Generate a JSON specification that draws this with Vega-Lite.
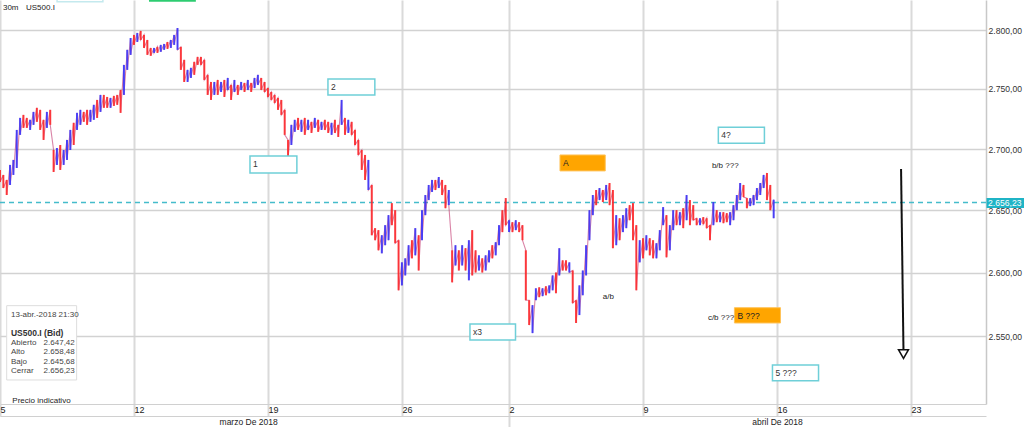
{
  "$schema": "https://vega.github.io/schema/vega-lite/v6.json",
  "width": 986,
  "height": 404,
  "autosize": {"type": "none"},
  "padding": {"left": 0, "top": 0, "right": 38, "bottom": 23},
  "background": "white",
  "config": {
    "locale": {"number": {"decimal": ",", "thousands": ".", "grouping": [3], "currency": ["", ""]}},
    "view": {"stroke": null},
    "font": "Liberation Sans",
    "text": {"font": "Liberation Sans"}
  },
  "datasets": {
    "bars": [
{"t":0,"h":2682.8,"l":2672.9,"d":"d"},
{"t":0.125,"h":2678.7,"l":2668,"d":"d"},
{"t":0.25,"h":2674.6,"l":2662.3,"d":"d"},
{"t":0.375,"h":2686.9,"l":2670.5,"d":"u"},
{"t":0.5,"h":2691,"l":2678.7,"d":"u"},
{"t":0.625,"h":2715.8,"l":2684.4,"d":"u"},
{"t":0.75,"h":2725.8,"l":2711.7,"d":"u"},
{"t":0.875,"h":2728.3,"l":2717.5,"d":"d"},
{"t":1,"h":2725.8,"l":2717.5,"d":"d"},
{"t":1.125,"h":2724.2,"l":2715.8,"d":"u"},
{"t":1.25,"h":2730.8,"l":2720,"d":"u"},
{"t":1.375,"h":2734.2,"l":2722.5,"d":"d"},
{"t":1.5,"h":2732.5,"l":2715.8,"d":"d"},
{"t":1.625,"h":2724.2,"l":2707.5,"d":"d"},
{"t":1.75,"h":2730.8,"l":2717.5,"d":"u"},
{"t":1.875,"h":2732.5,"l":2720,"d":"d"},
{"t":2,"h":2699.2,"l":2681.1,"d":"d"},
{"t":2.125,"h":2700.8,"l":2686.9,"d":"u"},
{"t":2.25,"h":2703.3,"l":2682.8,"d":"d"},
{"t":2.375,"h":2699.2,"l":2686.9,"d":"u"},
{"t":2.5,"h":2707.5,"l":2691,"d":"u"},
{"t":2.625,"h":2715.8,"l":2699.2,"d":"u"},
{"t":2.75,"h":2721.7,"l":2703.3,"d":"d"},
{"t":2.875,"h":2730,"l":2715.8,"d":"u"},
{"t":3,"h":2732.5,"l":2720,"d":"u"},
{"t":3.125,"h":2730.8,"l":2722.5,"d":"d"},
{"t":3.25,"h":2732.5,"l":2720,"d":"d"},
{"t":3.375,"h":2732.5,"l":2722.5,"d":"u"},
{"t":3.5,"h":2736.7,"l":2724.2,"d":"u"},
{"t":3.625,"h":2740.8,"l":2725.8,"d":"d"},
{"t":3.75,"h":2745,"l":2730.8,"d":"u"},
{"t":3.875,"h":2745,"l":2734.2,"d":"d"},
{"t":4,"h":2743.3,"l":2734.2,"d":"d"},
{"t":4.125,"h":2742.5,"l":2734.2,"d":"u"},
{"t":4.25,"h":2744.2,"l":2735.8,"d":"d"},
{"t":4.375,"h":2745,"l":2736.7,"d":"d"},
{"t":4.5,"h":2749.2,"l":2730,"d":"d"},
{"t":4.625,"h":2770.3,"l":2745,"d":"u"},
{"t":4.75,"h":2783.1,"l":2766.1,"d":"u"},
{"t":4.875,"h":2793.2,"l":2778.8,"d":"u"},
{"t":5,"h":2795.8,"l":2787.3,"d":"d"},
{"t":5.125,"h":2797.5,"l":2789.8,"d":"u"},
{"t":5.25,"h":2799.2,"l":2791.5,"d":"d"},
{"t":5.375,"h":2795.8,"l":2784.7,"d":"d"},
{"t":5.5,"h":2791.5,"l":2778.8,"d":"d"},
{"t":5.625,"h":2784.7,"l":2778,"d":"d"},
{"t":5.75,"h":2784.7,"l":2780.5,"d":"u"},
{"t":5.875,"h":2785.6,"l":2780.5,"d":"d"},
{"t":6,"h":2787.3,"l":2781.4,"d":"u"},
{"t":6.125,"h":2788.1,"l":2783.1,"d":"u"},
{"t":6.25,"h":2789.8,"l":2783.9,"d":"d"},
{"t":6.375,"h":2791.5,"l":2784.7,"d":"u"},
{"t":6.5,"h":2795.8,"l":2787.3,"d":"u"},
{"t":6.625,"h":2801.7,"l":2783.1,"d":"u"},
{"t":6.75,"h":2785.6,"l":2766.1,"d":"d"},
{"t":6.875,"h":2774.6,"l":2755.9,"d":"d"},
{"t":7,"h":2766.1,"l":2755.9,"d":"u"},
{"t":7.125,"h":2767.8,"l":2759.3,"d":"u"},
{"t":7.25,"h":2772.9,"l":2761.9,"d":"d"},
{"t":7.375,"h":2777.1,"l":2770.3,"d":"d"},
{"t":7.5,"h":2777.1,"l":2770.3,"d":"d"},
{"t":7.625,"h":2774.6,"l":2757.6,"d":"d"},
{"t":7.75,"h":2761.9,"l":2745,"d":"d"},
{"t":7.875,"h":2755.9,"l":2740.8,"d":"d"},
{"t":8,"h":2755.9,"l":2745,"d":"u"},
{"t":8.125,"h":2757.6,"l":2745,"d":"d"},
{"t":8.25,"h":2755.9,"l":2747.5,"d":"u"},
{"t":8.375,"h":2757.6,"l":2743.3,"d":"d"},
{"t":8.5,"h":2759.3,"l":2749.2,"d":"u"},
{"t":8.625,"h":2753.4,"l":2740.8,"d":"d"},
{"t":8.75,"h":2757.6,"l":2747.5,"d":"u"},
{"t":8.875,"h":2753.4,"l":2745,"d":"d"},
{"t":9,"h":2755.9,"l":2749.2,"d":"u"},
{"t":9.125,"h":2755.1,"l":2747.5,"d":"d"},
{"t":9.25,"h":2757.6,"l":2749.2,"d":"u"},
{"t":9.375,"h":2755.1,"l":2747.5,"d":"d"},
{"t":9.5,"h":2759.3,"l":2750.8,"d":"u"},
{"t":9.625,"h":2761.9,"l":2753.4,"d":"u"},
{"t":9.75,"h":2759.3,"l":2749.2,"d":"d"},
{"t":9.875,"h":2755.9,"l":2747.5,"d":"d"},
{"t":10,"h":2750.8,"l":2743.3,"d":"d"},
{"t":10.125,"h":2747.5,"l":2740.8,"d":"d"},
{"t":10.25,"h":2745,"l":2738.3,"d":"d"},
{"t":10.375,"h":2742.5,"l":2732.5,"d":"d"},
{"t":10.5,"h":2740.8,"l":2728.3,"d":"d"},
{"t":10.625,"h":2732.5,"l":2711.7,"d":"d"},
{"t":10.75,"h":2707.5,"l":2692.6,"d":"d"},
{"t":10.875,"h":2720,"l":2703.3,"d":"u"},
{"t":11,"h":2724.2,"l":2714.2,"d":"u"},
{"t":11.125,"h":2725.8,"l":2715.8,"d":"d"},
{"t":11.25,"h":2724.2,"l":2714.2,"d":"u"},
{"t":11.375,"h":2725.8,"l":2711.7,"d":"d"},
{"t":11.5,"h":2724.2,"l":2715.8,"d":"u"},
{"t":11.625,"h":2722.5,"l":2713.3,"d":"d"},
{"t":11.75,"h":2725.8,"l":2717.5,"d":"u"},
{"t":11.875,"h":2724.2,"l":2714.2,"d":"d"},
{"t":12,"h":2722.5,"l":2715.8,"d":"u"},
{"t":12.125,"h":2724.2,"l":2715.8,"d":"d"},
{"t":12.25,"h":2722.5,"l":2713.3,"d":"d"},
{"t":12.375,"h":2721.7,"l":2711.7,"d":"u"},
{"t":12.5,"h":2724.2,"l":2713.3,"d":"d"},
{"t":12.625,"h":2720,"l":2710,"d":"d"},
{"t":12.75,"h":2740.8,"l":2720,"d":"u"},
{"t":12.875,"h":2725.8,"l":2711.7,"d":"d"},
{"t":13,"h":2724.2,"l":2713.3,"d":"u"},
{"t":13.125,"h":2722.5,"l":2711.7,"d":"d"},
{"t":13.25,"h":2715.8,"l":2703.3,"d":"d"},
{"t":13.375,"h":2707.5,"l":2695.1,"d":"d"},
{"t":13.5,"h":2699.2,"l":2682.8,"d":"d"},
{"t":13.625,"h":2695.1,"l":2674.6,"d":"d"},
{"t":13.75,"h":2691,"l":2666.4,"d":"u"},
{"t":13.875,"h":2670.5,"l":2629.8,"d":"d"},
{"t":14,"h":2635.5,"l":2625.8,"d":"d"},
{"t":14.125,"h":2633.9,"l":2617.7,"d":"d"},
{"t":14.25,"h":2629.8,"l":2615.3,"d":"u"},
{"t":14.375,"h":2637.9,"l":2621.8,"d":"u"},
{"t":14.5,"h":2646,"l":2625.8,"d":"u"},
{"t":14.625,"h":2655.7,"l":2637.9,"d":"d"},
{"t":14.75,"h":2650,"l":2623.4,"d":"d"},
{"t":14.875,"h":2625.8,"l":2585.9,"d":"d"},
{"t":15,"h":2608.1,"l":2589.8,"d":"u"},
{"t":15.125,"h":2611.3,"l":2597.7,"d":"u"},
{"t":15.25,"h":2621.8,"l":2605.6,"d":"u"},
{"t":15.375,"h":2625.8,"l":2611.3,"d":"d"},
{"t":15.5,"h":2635.5,"l":2613.7,"d":"u"},
{"t":15.625,"h":2629.8,"l":2601.6,"d":"d"},
{"t":15.75,"h":2650,"l":2625.8,"d":"u"},
{"t":15.875,"h":2662.3,"l":2646,"d":"u"},
{"t":16,"h":2670.5,"l":2658.2,"d":"u"},
{"t":16.125,"h":2674.6,"l":2664.8,"d":"u"},
{"t":16.25,"h":2674.6,"l":2666.4,"d":"d"},
{"t":16.375,"h":2677,"l":2668,"d":"u"},
{"t":16.5,"h":2674.6,"l":2662.3,"d":"d"},
{"t":16.625,"h":2670.5,"l":2651.6,"d":"d"},
{"t":16.75,"h":2666.4,"l":2654.1,"d":"u"},
{"t":16.875,"h":2617.7,"l":2592.2,"d":"d"},
{"t":17,"h":2621.8,"l":2605.6,"d":"u"},
{"t":17.125,"h":2617.7,"l":2601.6,"d":"d"},
{"t":17.25,"h":2621.8,"l":2605.6,"d":"u"},
{"t":17.375,"h":2619.4,"l":2601.6,"d":"d"},
{"t":17.5,"h":2625.8,"l":2593.8,"d":"u"},
{"t":17.625,"h":2633.9,"l":2597.7,"d":"d"},
{"t":17.75,"h":2617.7,"l":2600,"d":"d"},
{"t":17.875,"h":2613.7,"l":2601.6,"d":"u"},
{"t":18,"h":2611.3,"l":2600,"d":"d"},
{"t":18.125,"h":2613.7,"l":2601.6,"d":"u"},
{"t":18.25,"h":2617.7,"l":2608.1,"d":"u"},
{"t":18.375,"h":2621.8,"l":2611.3,"d":"d"},
{"t":18.5,"h":2624.2,"l":2613.7,"d":"u"},
{"t":18.625,"h":2637.9,"l":2621.8,"d":"u"},
{"t":18.75,"h":2650,"l":2632.3,"d":"d"},
{"t":18.875,"h":2659.8,"l":2637.9,"d":"d"},
{"t":19,"h":2641.9,"l":2632.3,"d":"u"},
{"t":19.125,"h":2640.3,"l":2632.3,"d":"d"},
{"t":19.25,"h":2641.9,"l":2633.9,"d":"u"},
{"t":19.375,"h":2640.3,"l":2632.3,"d":"d"},
{"t":19.5,"h":2637.9,"l":2625.8,"d":"d"},
{"t":19.625,"h":2617.7,"l":2578.1,"d":"d"},
{"t":19.75,"h":2578.1,"l":2558.6,"d":"d"},
{"t":19.875,"h":2574.2,"l":2552.3,"d":"u"},
{"t":20,"h":2587.5,"l":2578.1,"d":"u"},
{"t":20.125,"h":2588.3,"l":2580.5,"d":"d"},
{"t":20.25,"h":2587.5,"l":2581.3,"d":"u"},
{"t":20.375,"h":2589.1,"l":2582,"d":"d"},
{"t":20.5,"h":2589.8,"l":2583.6,"d":"u"},
{"t":20.625,"h":2597.7,"l":2585.9,"d":"u"},
{"t":20.75,"h":2600,"l":2583.6,"d":"d"},
{"t":20.875,"h":2619.4,"l":2597.7,"d":"u"},
{"t":21,"h":2609.7,"l":2601.6,"d":"d"},
{"t":21.125,"h":2609.7,"l":2601.6,"d":"d"},
{"t":21.25,"h":2608.1,"l":2600,"d":"u"},
{"t":21.375,"h":2601.6,"l":2575.8,"d":"d"},
{"t":21.5,"h":2578.1,"l":2560.2,"d":"d"},
{"t":21.625,"h":2589.8,"l":2566.4,"d":"u"},
{"t":21.75,"h":2601.6,"l":2582,"d":"u"},
{"t":21.875,"h":2621.8,"l":2597.7,"d":"u"},
{"t":22,"h":2650,"l":2625.8,"d":"u"},
{"t":22.125,"h":2662.3,"l":2646,"d":"u"},
{"t":22.25,"h":2666.4,"l":2654.1,"d":"d"},
{"t":22.375,"h":2668,"l":2658.2,"d":"u"},
{"t":22.5,"h":2666.4,"l":2656.6,"d":"d"},
{"t":22.625,"h":2670.5,"l":2658.2,"d":"u"},
{"t":22.75,"h":2672.1,"l":2654.1,"d":"d"},
{"t":22.875,"h":2666.4,"l":2619.4,"d":"d"},
{"t":23,"h":2646,"l":2621.8,"d":"u"},
{"t":23.125,"h":2643.5,"l":2625.8,"d":"d"},
{"t":23.25,"h":2646,"l":2632.3,"d":"u"},
{"t":23.375,"h":2651.6,"l":2635.5,"d":"u"},
{"t":23.5,"h":2654.1,"l":2641.9,"d":"d"},
{"t":23.625,"h":2655.7,"l":2625.8,"d":"d"},
{"t":23.75,"h":2637.9,"l":2585.9,"d":"d"},
{"t":23.875,"h":2625.8,"l":2608.1,"d":"u"},
{"t":24,"h":2627.4,"l":2611.3,"d":"d"},
{"t":24.125,"h":2629.8,"l":2617.7,"d":"u"},
{"t":24.25,"h":2627.4,"l":2613.7,"d":"d"},
{"t":24.375,"h":2625.8,"l":2611.3,"d":"d"},
{"t":24.5,"h":2623.4,"l":2611.3,"d":"u"},
{"t":24.625,"h":2633.9,"l":2617.7,"d":"u"},
{"t":24.75,"h":2652.5,"l":2637.9,"d":"u"},
{"t":24.875,"h":2646,"l":2612.1,"d":"d"},
{"t":25,"h":2637.9,"l":2617.7,"d":"u"},
{"t":25.125,"h":2650,"l":2633.9,"d":"u"},
{"t":25.25,"h":2650,"l":2637.9,"d":"d"},
{"t":25.375,"h":2648.4,"l":2637.9,"d":"u"},
{"t":25.5,"h":2651.6,"l":2635.5,"d":"d"},
{"t":25.625,"h":2662.3,"l":2641.9,"d":"u"},
{"t":25.75,"h":2658.2,"l":2637.9,"d":"d"},
{"t":25.875,"h":2654.1,"l":2641.9,"d":"d"},
{"t":26,"h":2643.5,"l":2637.9,"d":"d"},
{"t":26.125,"h":2643.5,"l":2637.9,"d":"u"},
{"t":26.25,"h":2644.4,"l":2638.7,"d":"d"},
{"t":26.375,"h":2643.5,"l":2635.5,"d":"d"},
{"t":26.5,"h":2637.9,"l":2625.8,"d":"d"},
{"t":26.625,"h":2656.6,"l":2637.9,"d":"u"},
{"t":26.75,"h":2650,"l":2640.3,"d":"d"},
{"t":26.875,"h":2648.4,"l":2640.3,"d":"u"},
{"t":27,"h":2648.4,"l":2639.5,"d":"d"},
{"t":27.125,"h":2647.6,"l":2640.3,"d":"d"},
{"t":27.25,"h":2648.4,"l":2637.9,"d":"u"},
{"t":27.375,"h":2654.1,"l":2641.9,"d":"u"},
{"t":27.5,"h":2662.3,"l":2650,"d":"u"},
{"t":27.625,"h":2672.1,"l":2658.2,"d":"u"},
{"t":27.75,"h":2670.5,"l":2660.7,"d":"d"},
{"t":27.875,"h":2659.8,"l":2651.6,"d":"d"},
{"t":28,"h":2659.8,"l":2653.3,"d":"u"},
{"t":28.125,"h":2662.3,"l":2654.1,"d":"u"},
{"t":28.25,"h":2668,"l":2658.2,"d":"u"},
{"t":28.375,"h":2672.1,"l":2662.3,"d":"u"},
{"t":28.5,"h":2678.7,"l":2668,"d":"u"},
{"t":28.625,"h":2680.3,"l":2658.2,"d":"d"},
{"t":28.75,"h":2670.5,"l":2650,"d":"d"},
{"t":28.875,"h":2658.5,"l":2643.5,"d":"u"}
    ],
    "cyanBoxes": [
      {"label": "1", "t1": 9.33, "t2": 11.08, "p1": 2694.3, "p2": 2680.3},
      {"label": "2", "t1": 12.24, "t2": 13.99, "p1": 2758.5, "p2": 2745.0},
      {"label": "4?", "t1": 26.81, "t2": 28.53, "p1": 2718.1, "p2": 2704.8},
      {"label": "x3", "t1": 17.54, "t2": 19.24, "p1": 2559.4, "p2": 2546.9},
      {"label": "5 ???", "t1": 28.83, "t2": 30.55, "p1": 2527.5, "p2": 2515.4}
    ],
    "orangeBoxes": [
      {"label": "A", "t1": 20.9, "t2": 22.59, "p1": 2695.1, "p2": 2682.0},
      {"label": "B ???", "t1": 27.41, "t2": 29.13, "p1": 2572.2, "p2": 2560.2}
    ],
    "notes": [
      {"text": "b/b ???", "t": 26.57, "p": 2686.1},
      {"text": "a/b", "t": 22.5, "p": 2580.5},
      {"text": "c/b ???", "t": 26.42, "p": 2564.1},
      {"text": "30m", "t": 0.11, "p": 2818.9},
      {"text": "US500.I", "t": 0.97, "p": 2818.9},
      {"text": "Precio indicativo", "t": 0.46, "p": 2499.8}
    ],
    "infoLabels": [
      {"k": "13-abr.-2018 21:30", "t": 0.41, "p": 2566.4},
      {"k": "Abierto", "t": 0.41, "p": 2544.4},
      {"k": "Alto", "t": 0.41, "p": 2537.3},
      {"k": "Bajo", "t": 0.41, "p": 2530.1},
      {"k": "Cerrar", "t": 0.41, "p": 2522.9}
    ],
    "infoValues": [
      {"v": 2647.42, "t": 2.79, "p": 2544.4},
      {"v": 2658.48, "t": 2.79, "p": 2537.3},
      {"v": 2645.68, "t": 2.79, "p": 2530.1},
      {"v": 2656.23, "t": 2.79, "p": 2522.9}
    ]
  },
  "layer": [
    {
      "data": {"values": [{"t1": 5.56, "t2": 7.31, "p1": 2824.3, "p2": 2840}]},
      "mark": {"type": "rect", "fill": "#2ecc71", "clip": true},
      "encoding": {
        "x": {"field": "t1", "type": "quantitative", "scale": {"domain": [0, 36.8], "nice": false, "zero": false}, "axis": null},
        "x2": {"field": "t2"},
        "y": {"field": "p1", "type": "quantitative", "scale": {"type": "log", "domain": [2497.6, 2825.8], "nice": false}, "axis": null},
        "y2": {"field": "p2"}
      }
    },
    {
      "data": {"values": [{"t1": 2.13, "t2": 3.84, "p1": 2824.3, "p2": 2840}]},
      "mark": {"type": "rect", "fill": "white", "stroke": "#c4e9ee", "strokeWidth": 1.5, "clip": true},
      "encoding": {
        "x": {"field": "t1", "type": "quantitative", "scale": {"domain": [0, 36.8], "nice": false, "zero": false}, "axis": null},
        "x2": {"field": "t2"},
        "y": {"field": "p1", "type": "quantitative", "scale": {"type": "log", "domain": [2497.6, 2825.8], "nice": false}, "axis": null},
        "y2": {"field": "p2"}
      }
    },
    {
      "data": {"values": [{}]},
      "mark": {"type": "rule", "stroke": "#45bccb", "strokeWidth": 1.5, "strokeDash": [5, 4]},
      "encoding": {
        "y": {"datum": 2656.23, "type": "quantitative", "scale": {"type": "log", "domain": [2497.6, 2825.8], "nice": false}, "axis": null}
      }
    },
    {
      "data": {"name": "bars"},
      "transform": [{"fold": ["h", "l"], "as": ["k", "p"]}],
      "mark": {"type": "line", "stroke": "#c0306a", "strokeWidth": 1.1, "opacity": 0.6, "interpolate": "linear"},
      "encoding": {
        "x": {"field": "t", "type": "quantitative", "scale": {"domain": [0, 36.8], "nice": false, "zero": false}, "axis": null},
        "y": {"field": "p", "type": "quantitative", "scale": {"type": "log", "domain": [2497.6, 2825.8], "nice": false}, "axis": null},
        "order": [{"field": "t", "type": "quantitative"}, {"field": "k", "type": "nominal"}]
      }
    },
    {
      "data": {"name": "bars"},
      "mark": {"type": "rule", "strokeWidth": 2, "opacity": 0.85},
      "encoding": {
        "x": {
          "field": "t", "type": "quantitative",
          "scale": {"domain": [0, 36.8], "nice": false, "zero": false},
          "axis": {
            "orient": "bottom", "title": null,
            "values": [0, 5, 10, 15, 19, 24, 29, 34],
            "labelExpr": "datum.value==0?'5':datum.value==5?'12':datum.value==10?'19':datum.value==15?'26':datum.value==19?'2':datum.value==24?'9':datum.value==29?'16':'23'",
            "grid": true, "gridColor": "#dadada", "gridWidth": 2,
            "ticks": true, "tickSize": 12, "tickColor": "#dadada", "tickWidth": 2,
            "labelAlign": "left", "labelBaseline": "top", "labelPadding": -11, "labelDx": 3,
            "labelFontSize": 9, "labelColor": "#222", "labelFont": "Liberation Sans",
            "labelFlush": false, "labelOverlap": false,
            "domain": true, "domainColor": "#d0d0d0", "domainWidth": 1
          }
        },
        "y": {
          "field": "l", "type": "quantitative",
          "scale": {"type": "log", "domain": [2497.6, 2825.8], "nice": false},
          "axis": {
            "orient": "right", "title": null,
            "values": [2550, 2600, 2650, 2700, 2750, 2800],
            "format": ",.2f",
            "grid": true, "gridColor": "#d2d2d2", "gridWidth": 1.5,
            "ticks": false, "labelAlign": "left", "labelPadding": 2,
            "labelFontSize": 8.6, "labelColor": "#333", "labelFont": "Liberation Sans",
            "labelFlush": false, "labelOverlap": false,
            "domain": true, "domainColor": "#c8c8c8", "domainWidth": 1.5
          }
        },
        "y2": {"field": "h"},
        "color": {"field": "d", "type": "nominal", "scale": {"domain": ["u", "d"], "range": ["#3030ff", "#ff2626"]}, "legend": null}
      }
    },
    {
      "data": {"name": "cyanBoxes"},
      "mark": {"type": "rect", "fill": "white", "stroke": "#6fcfd8", "strokeWidth": 1.5},
      "encoding": {
        "x": {"field": "t1", "type": "quantitative", "scale": {"domain": [0, 36.8], "nice": false, "zero": false}, "axis": null},
        "x2": {"field": "t2"},
        "y": {"field": "p1", "type": "quantitative", "scale": {"type": "log", "domain": [2497.6, 2825.8], "nice": false}, "axis": null},
        "y2": {"field": "p2"}
      }
    },
    {
      "data": {"name": "orangeBoxes"},
      "mark": {"type": "rect", "fill": "#ffa500", "stroke": "#ffc35a", "strokeWidth": 1},
      "encoding": {
        "x": {"field": "t1", "type": "quantitative", "scale": {"domain": [0, 36.8], "nice": false, "zero": false}, "axis": null},
        "x2": {"field": "t2"},
        "y": {"field": "p1", "type": "quantitative", "scale": {"type": "log", "domain": [2497.6, 2825.8], "nice": false}, "axis": null},
        "y2": {"field": "p2"}
      }
    },
    {
      "data": {"name": "cyanBoxes"},
      "mark": {"type": "text", "align": "left", "baseline": "middle", "dx": 3, "dy": 8, "fontSize": 8.5, "color": "#333"},
      "encoding": {
        "x": {"field": "t1", "type": "quantitative", "scale": {"domain": [0, 36.8], "nice": false, "zero": false}, "axis": null},
        "y": {"field": "p1", "type": "quantitative", "scale": {"type": "log", "domain": [2497.6, 2825.8], "nice": false}, "axis": null},
        "text": {"field": "label"}
      }
    },
    {
      "data": {"name": "orangeBoxes"},
      "mark": {"type": "text", "align": "left", "baseline": "middle", "dx": 3, "dy": 8, "fontSize": 8.5, "color": "#222"},
      "encoding": {
        "x": {"field": "t1", "type": "quantitative", "scale": {"domain": [0, 36.8], "nice": false, "zero": false}, "axis": null},
        "y": {"field": "p1", "type": "quantitative", "scale": {"type": "log", "domain": [2497.6, 2825.8], "nice": false}, "axis": null},
        "text": {"field": "label"}
      }
    },
    {
      "data": {"name": "notes"},
      "mark": {"type": "text", "align": "left", "baseline": "middle", "fontSize": 8, "color": "#222"},
      "encoding": {
        "x": {
          "field": "t", "type": "quantitative",
          "scale": {"domain": [0, 36.8], "nice": false, "zero": false},
          "axis": {
            "orient": "bottom", "offset": 12, "title": null,
            "values": [9.26, 19, 29],
            "labelExpr": "datum.value<10?'marzo De 2018':datum.value>20?'abril De 2018':''",
            "grid": false,
            "ticks": true, "tickSize": 11, "tickColor": "#dadada", "tickWidth": 2,
            "tickOpacity": {"condition": {"test": "datum.value==19", "value": 1}, "value": 0},
            "labelAlign": "center", "labelBaseline": "top", "labelPadding": -10,
            "labelFontSize": 8.5, "labelColor": "#222", "labelFont": "Liberation Sans",
            "labelFlush": false, "labelOverlap": false,
            "domain": true, "domainColor": "#d0d0d0", "domainWidth": 1
          }
        },
        "y": {"field": "p", "type": "quantitative", "scale": {"type": "log", "domain": [2497.6, 2825.8], "nice": false}, "axis": null},
        "text": {"field": "text"}
      }
    },
    {
      "data": {"values": [{"t1": 0.25, "t2": 2.86, "p1": 2573.8, "p2": 2516.0}]},
      "mark": {"type": "rect", "fill": "white", "stroke": "#dddddd", "strokeWidth": 1},
      "encoding": {
        "x": {"field": "t1", "type": "quantitative", "scale": {"domain": [0, 36.8], "nice": false, "zero": false}, "axis": null},
        "x2": {"field": "t2"},
        "y": {"field": "p1", "type": "quantitative", "scale": {"type": "log", "domain": [2497.6, 2825.8], "nice": false}, "axis": null},
        "y2": {"field": "p2"}
      }
    },
    {
      "data": {"name": "infoLabels"},
      "mark": {"type": "text", "align": "left", "baseline": "middle", "fontSize": 8, "color": "#444"},
      "encoding": {
        "x": {"field": "t", "type": "quantitative", "scale": {"domain": [0, 36.8], "nice": false, "zero": false}, "axis": null},
        "y": {"field": "p", "type": "quantitative", "scale": {"type": "log", "domain": [2497.6, 2825.8], "nice": false}, "axis": null},
        "text": {"field": "k"}
      }
    },
    {
      "data": {"values": [{"k": "US500.I (Bid)", "t": 0.41, "p": 2552.1}]},
      "mark": {"type": "text", "align": "left", "baseline": "middle", "fontSize": 8.5, "fontWeight": "bold", "color": "#333"},
      "encoding": {
        "x": {"field": "t", "type": "quantitative", "scale": {"domain": [0, 36.8], "nice": false, "zero": false}, "axis": null},
        "y": {"field": "p", "type": "quantitative", "scale": {"type": "log", "domain": [2497.6, 2825.8], "nice": false}, "axis": null},
        "text": {"field": "k"}
      }
    },
    {
      "data": {"name": "infoValues"},
      "mark": {"type": "text", "align": "right", "baseline": "middle", "fontSize": 8, "color": "#444"},
      "encoding": {
        "x": {"field": "t", "type": "quantitative", "scale": {"domain": [0, 36.8], "nice": false, "zero": false}, "axis": null},
        "y": {"field": "p", "type": "quantitative", "scale": {"type": "log", "domain": [2497.6, 2825.8], "nice": false}, "axis": null},
        "text": {"field": "v", "type": "quantitative", "format": ",.2f"}
      }
    },
    {
      "data": {"values": [{}]},
      "mark": {"type": "rule", "stroke": "#111", "strokeWidth": 2},
      "encoding": {
        "x": {"datum": 33.63, "type": "quantitative", "scale": {"domain": [0, 36.8], "nice": false, "zero": false}, "axis": null},
        "x2": {"datum": 33.72},
        "y": {"datum": 2683.6, "type": "quantitative", "scale": {"type": "log", "domain": [2497.6, 2825.8], "nice": false}, "axis": null},
        "y2": {"datum": 2539.1}
      }
    },
    {
      "data": {"values": [{}]},
      "mark": {"type": "point", "shape": "triangle-down", "filled": false, "stroke": "#111", "strokeWidth": 1.5, "size": 100, "opacity": 1},
      "encoding": {
        "x": {"datum": 33.72, "type": "quantitative", "scale": {"domain": [0, 36.8], "nice": false, "zero": false}, "axis": null},
        "y": {"datum": 2536.0, "type": "quantitative", "scale": {"type": "log", "domain": [2497.6, 2825.8], "nice": false}, "axis": null}
      }
    },
    {
      "data": {"values": [{}]},
      "mark": {"type": "rect", "fill": "#1fb4c6"},
      "encoding": {
        "x": {"datum": 36.82, "type": "quantitative", "scale": {"domain": [0, 36.8], "nice": false, "zero": false}, "axis": null},
        "x2": {"datum": 38.3},
        "y": {"datum": 2659.9, "type": "quantitative", "scale": {"type": "log", "domain": [2497.6, 2825.8], "nice": false}, "axis": null},
        "y2": {"datum": 2651.7}
      }
    },
    {
      "data": {"values": [{}]},
      "mark": {"type": "text", "align": "left", "baseline": "middle", "dx": 1, "fontSize": 8.6, "color": "white"},
      "encoding": {
        "x": {"datum": 36.84, "type": "quantitative", "scale": {"domain": [0, 36.8], "nice": false, "zero": false}, "axis": null},
        "y": {"datum": 2656.23, "type": "quantitative", "scale": {"type": "log", "domain": [2497.6, 2825.8], "nice": false}, "axis": null},
        "text": {"datum": 2656.23, "format": ",.2f"}
      }
    }
  ],
  "resolve": {"axis": {"x": "independent", "y": "independent"}}
}
